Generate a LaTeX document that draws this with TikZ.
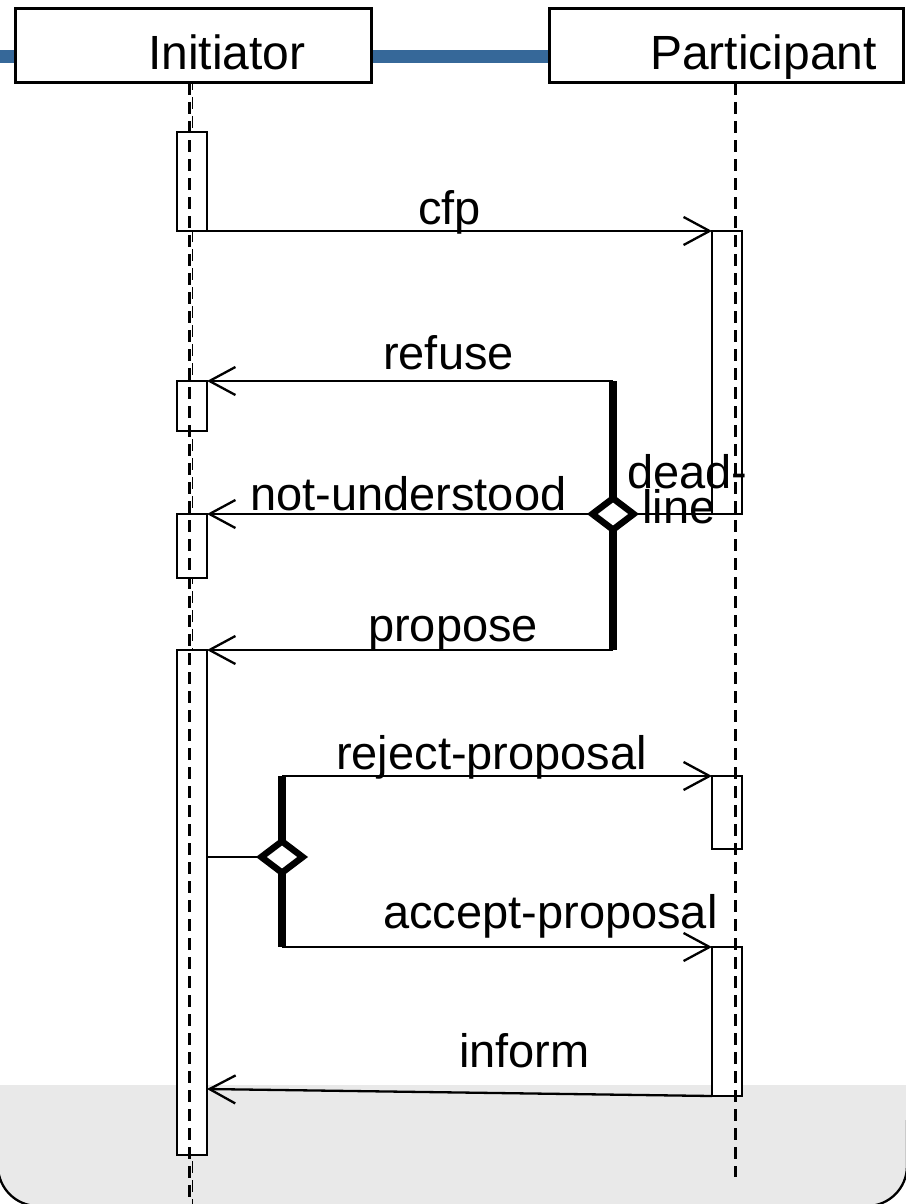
\documentclass[tikz,border=0pt]{standalone}
\usepackage{fontspec}
\setmainfont{Liberation Sans}
\usetikzlibrary{arrows.meta,shapes.geometric}
\definecolor{barblue}{RGB}{54,104,153}
\definecolor{footgray}{RGB}{233,233,233}
\newcommand\msgfont{\fontsize{47pt}{56pt}\selectfont}
\newcommand\hdrfont{\fontsize{48pt}{58pt}\selectfont}

\begin{document}
\begin{tikzpicture}[x=1pt,y=-1pt,
  hdrbox/.style={draw,line width=3pt,fill=white,inner sep=0pt,outer sep=0pt,minimum height=74pt},
  actbox/.style={draw,line width=2.3pt,fill=white,inner sep=0pt,outer sep=0pt,minimum width=30pt},
  lifeline/.style={line width=3pt,dash pattern=on 12pt off 7pt},
  thinlife/.style={line width=1.8pt,dash pattern=on 12pt off 7pt,dash phase=5pt},
  msg/.style={line width=2.3pt,-{Straight Barb[length=26pt,width=28pt]}},
  plain/.style={line width=2.3pt},
  joinbar/.style={line width=8pt},
  choice/.style={diamond,draw,fill=white,line width=6.5pt,inner sep=0pt,minimum width=44pt,minimum height=34pt},
  lbl/.style={anchor=base west,inner sep=0pt,font=\msgfont},
  hdrlbl/.style={anchor=base west,inner sep=0pt,font=\hdrfont},
]
\useasboundingbox (0,0) rectangle (905,1204);
\fill[white] (0,0) rectangle (905,1204);

% footer band with rounded lower corners
\fill[footgray] (-2,1085) -- (-2,1166) arc[start angle=180,end angle=90,radius=40]
  -- (867,1206) arc[start angle=90,end angle=0,radius=40] -- (907,1085) -- cycle;
\draw[line width=2.3pt] (-2,1120) -- (-2,1166) arc[start angle=180,end angle=90,radius=40]
  -- (867,1206) arc[start angle=90,end angle=0,radius=40] -- (907,1120);

% title bar
\fill[barblue] (0,50) rectangle (905,63);

% lifeline heads
\node[hdrbox,minimum width=356pt] (ini) at (193,46) {};
\node[hdrbox,minimum width=354pt] (par) at (726,46) {};
\node[hdrlbl] (initxt) at (148,70) {Initiator};
\node[hdrlbl] (partxt) at (650,70) {Participant};

% lifeline coordinates
\coordinate (iniA) at (189,83);
\coordinate (iniAend) at (189,1204);
\coordinate (iniB) at (192.5,83);
\coordinate (iniBend) at (192.5,1204);
\coordinate (parA) at (735,83);
\coordinate (parAend) at (735,1177);

\draw[thinlife] (iniB) -- (iniBend);

% activations of the initiator
\node[actbox,minimum height=99pt]  (ia1) at (192,181.5) {};
\node[actbox,minimum height=50pt]  (ia2) at (192,406) {};
\node[actbox,minimum height=64pt]  (ia3) at (192,546) {};
\node[actbox,minimum height=505pt] (ia4) at (192,902.5) {};

% activations of the participant
\node[actbox,minimum height=283pt] (pa1) at (727,372.5) {};
\node[actbox,minimum height=73pt]  (pa2) at (727,812.5) {};
\node[actbox,minimum height=149pt] (pa3) at (727,1021.5) {};

\draw[lifeline] (iniA) -- (iniAend);
\draw[lifeline] (parA) -- (parAend);

% call for proposals
\draw[msg] (ia1.south east) -- (pa1.north west);

% answers of the participant
\coordinate (j1t) at (613,381);
\coordinate (j1b) at (613,650);
\draw[joinbar] (j1t) -- (j1b);
\node[choice] (d1) at (613,514) {};
\draw[msg] (j1t) -- (ia2.north east);
\draw[msg] (d1.west) -- (ia3.north east);
\draw[msg] (j1b) -- (ia4.north east);
\draw[plain] (d1.east) -- (pa1.south west);

% decision of the initiator
\coordinate (j2t) at (282,776);
\coordinate (j2b) at (282,947);
\draw[joinbar] (j2t) -- (j2b);
\node[choice] (d2) at (282,857) {};
\draw[plain] (ia4.east |- d2) -- (d2.west);
\draw[msg] (j2t) -- (pa2.north west);
\draw[msg] (j2b) -- (pa3.north west);

% result
\coordinate (infend) at (207,1089);
\draw[msg] (pa3.south west) -- (infend);

% message labels
\node[lbl] (tcfp) at (418,224) {cfp};
\node[lbl] (tref) at (383,369) {refuse};
\node[lbl] (tnu)  at (250,510) {not-understood};
\node[lbl] (tdl1) at (627,488) {dead-};
\node[lbl] (tdl2) at (642,523) {line};
\node[lbl] (tprop) at (368,641) {propose};
\node[lbl] (trej) at (336,769) {reject-proposal};
\node[lbl] (tacc) at (383,928) {accept-proposal};
\node[lbl] (tinf) at (459,1067) {inform};
\end{tikzpicture}
\end{document}
